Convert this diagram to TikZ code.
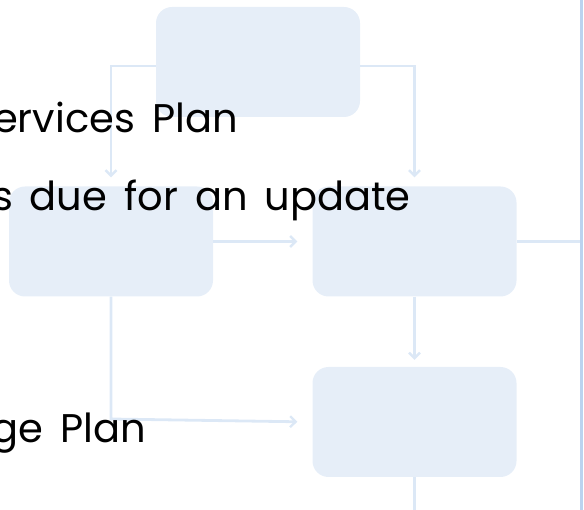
\documentclass[tikz,border=0pt]{standalone}
\usepackage{fontspec}
\setmainfont{Poppins}
\usepackage{xcolor}
\definecolor{boxblue}{HTML}{E6EEF8}
\definecolor{lineblue}{HTML}{DCE8F6}
\definecolor{edgeblue}{HTML}{BBD3EF}
\usetikzlibrary{arrows.meta,positioning,calc}
\newcommand{\linefont}{\fontsize{40}{48}\selectfont\spaceskip 17pt\relax}
\tikzset{
    stepbox/.style={fill=boxblue,draw=none,rounded corners=16pt,minimum width=204pt,minimum height=110pt,inner sep=0pt},
    flow/.style={draw=lineblue,line width=2.8pt,-{Straight Barb[length=5.5pt,width=11pt,line width=2.4pt]}},
    flowline/.style={draw=lineblue,line width=2.8pt},
    bullettext/.style={anchor=base east,inner sep=0pt,font=\linefont}
}

\begin{document}
\begin{tikzpicture}[x=1pt,y=-1pt]
    \useasboundingbox (0,0) rectangle (584,510);
    \clip (0,0) rectangle (584,510);

    % boxes
    \node[stepbox] (top) at (258,62) {};
    \node[stepbox] (left) at (111,241.5) {};
    \node[stepbox] (right) at (414.5,241.5) {};
    \node[stepbox] (bottom) at (414.5,422) {};

    \coordinate (topW) at ($(top.west)+(0,4)$);
    \coordinate (topE) at ($(top.east)+(0,4)$);
    \coordinate (turn) at (left.south |- 0,419);
    \coordinate (down) at (bottom.south |- 0,520);
    \coordinate (side) at (581,241.5);

    % connectors
    \draw[flow,shorten >=9pt] (topW) -| (left.north);
    \draw[flow,shorten >=9pt] (topE) -| (right.north);
    \draw[flow,shorten >=15pt] (left.east) -- (right.west);
    \draw[flow,shorten >=15pt] (left.south) -- (turn) -- (bottom.west);
    \draw[flow,shorten >=7pt] (right.south) -- (bottom.north);
    \draw[flowline] (bottom.south) -- (down);
    \draw[flowline] (right.east) -- (side);

    % edge at the right
    \draw[edgeblue,line width=2.6pt] (581.5,-5) -- (581.5,515);

    % text lines
    \node[bullettext] (line1) at (238,133) {ervices Plan};
    \node[bullettext] (line2) at (411,211) {s due for an update};
    \node[bullettext] (line3) at (146,443) {ge Plan};
\end{tikzpicture}
\end{document}
